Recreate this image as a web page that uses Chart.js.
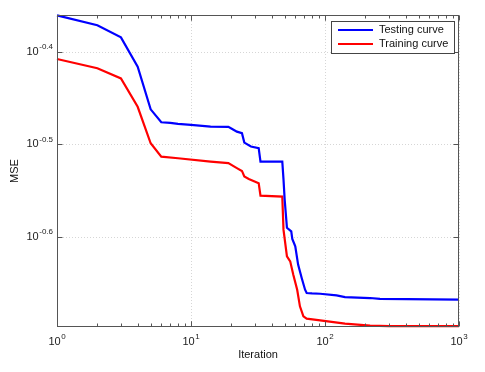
<!DOCTYPE html>
<html>
<head>
<meta charset="utf-8">
<script src="https://cdn.jsdelivr.net/npm/chart.js@4.4.0/dist/chart.umd.min.js"></script>
<style>
  html, body { margin: 0; padding: 0; background: #fff; }
  #wrap { width: 485px; height: 372px; }
</style>
</head>
<body>
<div id="wrap"><canvas id="c" width="485" height="372"></canvas></div>
<script>
// values (log-log MSE vs iteration)
const testIter = [1, 2, 3, 4, 5, 6, 7, 8, 10, 14, 19, 20, 22, 24, 25, 28, 32, 33, 48, 49, 50, 52, 56, 57, 60, 63, 67, 71, 73, 80, 92, 122, 141, 217, 257, 1000];
const testMse  = [0.4358, 0.4253, 0.4126, 0.3836, 0.3450, 0.3341, 0.3335, 0.3328, 0.3320, 0.3305, 0.3303, 0.3290, 0.3264, 0.3251, 0.3176, 0.3145, 0.3132, 0.3030, 0.3030, 0.2900, 0.2756, 0.2570, 0.2547, 0.2500, 0.2454, 0.2345, 0.2268, 0.2203, 0.2185, 0.2183, 0.2181, 0.2172, 0.2163, 0.2158, 0.2153, 0.2149];

const trainIter = [1, 2, 3, 4, 5, 6, 8, 14, 19, 22, 24, 25, 27, 32, 33, 48, 49, 52, 55, 58, 62, 65, 69, 73, 92, 141, 217, 300, 1000];
const trainMse  = [0.3910, 0.3821, 0.3726, 0.3472, 0.3171, 0.3067, 0.3055, 0.3030, 0.3018, 0.2981, 0.2960, 0.2919, 0.2902, 0.2871, 0.2784, 0.2777, 0.2558, 0.2393, 0.2364, 0.2287, 0.2203, 0.2114, 0.2062, 0.2050, 0.2041, 0.2025, 0.2015, 0.2012, 0.2012];

const xTicks   = [1, 10, 100, 1000];
const xTickExp = ['0', '1', '2', '3'];
const yTicks   = [0.398107, 0.316228, 0.251189];
const yTickExp = ['-0.4', '-0.5', '-0.6'];

const FONT = '"Liberation Sans", Arial, Helvetica, sans-serif';

function seg(ctx, x1, y1, x2, y2) {
  ctx.beginPath(); ctx.moveTo(x1, y1); ctx.lineTo(x2, y2); ctx.stroke();
}

// "10" with a raised exponent; anchor 'right' or 'center' at px
function powLabel(ctx, exp, px, py, anchor) {
  ctx.font = '11px ' + FONT;
  const wb = ctx.measureText('10').width;
  ctx.font = '8px ' + FONT;
  const we = ctx.measureText(exp).width;
  const w = wb + we + 0.5;
  const x0 = anchor === 'right' ? px - w : px - w / 2;
  ctx.fillStyle = '#222';
  ctx.textAlign = 'left';
  ctx.textBaseline = 'middle';
  ctx.font = '11px ' + FONT;
  ctx.fillText('10', x0, py);
  ctx.font = '8px ' + FONT;
  ctx.fillText(exp, x0 + wb + 0.5, py - 5);
}

const matlabAxes = {
  id: 'matlabAxes',
  beforeDatasetsDraw(chart) {
    const { ctx, chartArea: a, scales: { x, y } } = chart;
    ctx.save();
    ctx.strokeStyle = 'rgba(0,0,0,0.16)';
    ctx.lineWidth = 1;
    ctx.setLineDash([1, 2]);
    xTicks.forEach(v => {
      const px = Math.round(x.getPixelForValue(v)) + 0.5;
      seg(ctx, px, a.top, px, a.bottom);
    });
    yTicks.forEach(v => {
      const py = Math.round(y.getPixelForValue(v)) + 0.5;
      seg(ctx, a.left, py, a.right, py);
    });
    ctx.restore();
  },
  afterDatasetsDraw(chart) {
    const { ctx, chartArea: a, scales: { x, y } } = chart;
    ctx.save();
    ctx.strokeStyle = '#555';
    ctx.lineWidth = 1;
    const L = Math.round(a.left) + 0.5, R = Math.round(a.right) - 0.5;
    const T = Math.round(a.top) + 0.5, B = Math.round(a.bottom) - 0.5;
    ctx.strokeRect(L, T, R - L, B - T);

    // x ticks, major and minor, pointing inward on both sides
    for (let d = 1; d < 1000; d *= 10) {
      for (let k = 1; k <= 10; k++) {
        const px = Math.round(x.getPixelForValue(d * k)) + 0.5;
        const len = (k === 1 || k === 10) ? 5 : 3;
        seg(ctx, px, B, px, B - len);
        seg(ctx, px, T, px, T + len);
      }
    }
    yTicks.forEach(v => {
      const py = Math.round(y.getPixelForValue(v)) + 0.5;
      seg(ctx, L, py, L + 5, py);
      seg(ctx, R, py, R - 5, py);
    });

    // tick labels
    xTicks.forEach((v, i) => powLabel(ctx, xTickExp[i], x.getPixelForValue(v), a.bottom + 15, 'center'));
    yTicks.forEach((v, i) => powLabel(ctx, yTickExp[i], a.left - 4, y.getPixelForValue(v), 'right'));

    // axis titles
    ctx.fillStyle = '#111';
    ctx.font = '11px ' + FONT;
    ctx.textAlign = 'center';
    ctx.textBaseline = 'middle';
    ctx.fillText('Iteration', (a.left + a.right) / 2, 355);
    ctx.save();
    ctx.translate(15, (a.top + a.bottom) / 2);
    ctx.rotate(-Math.PI / 2);
    ctx.fillText('MSE', 0, 0);
    ctx.restore();

    // legend box, top right inside the axes
    const bx = 331.5, by = 21.5, bw = 123, bh = 32;
    ctx.fillStyle = '#fff';
    ctx.fillRect(bx, by, bw, bh);
    ctx.strokeStyle = '#444';
    ctx.strokeRect(bx, by, bw, bh);
    chart.data.datasets.forEach((ds, i) => {
      const ly = 30 + i * 14;
      ctx.strokeStyle = ds.borderColor;
      ctx.lineWidth = 2.2;
      seg(ctx, 338, ly, 373, ly);
      ctx.fillStyle = '#111';
      ctx.font = '11px ' + FONT;
      ctx.textAlign = 'left';
      ctx.textBaseline = 'middle';
      ctx.fillText(ds.label, 379, ly);
    });
    ctx.restore();
  }
};

new Chart(document.getElementById('c'), {
  type: 'line',
  data: {
    datasets: [
      {
        label: 'Testing curve',
        data: testIter.map((v, i) => ({ x: v, y: testMse[i] })),
        borderColor: 'rgb(0,0,255)',
        borderWidth: 2.2,
        pointRadius: 0,
        tension: 0,
        fill: false,
        clip: false
      },
      {
        label: 'Training curve',
        data: trainIter.map((v, i) => ({ x: v, y: trainMse[i] })),
        borderColor: 'rgb(255,0,0)',
        borderWidth: 2.2,
        pointRadius: 0,
        tension: 0,
        fill: false,
        clip: false
      }
    ]
  },
  options: {
    responsive: false,
    animation: false,
    layout: { padding: { left: 57, top: 15, right: 26, bottom: 45 } },
    plugins: { legend: { display: false }, tooltip: { enabled: false } },
    scales: {
      x: { type: 'logarithmic', min: 1, max: 1000, display: false },
      y: { type: 'logarithmic', min: 0.2008, max: 0.4362, display: false }
    }
  },
  plugins: [matlabAxes]
});
</script>
</body>
</html>
